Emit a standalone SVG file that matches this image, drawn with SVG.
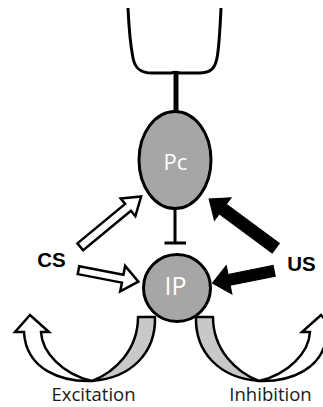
<svg xmlns="http://www.w3.org/2000/svg" width="323" height="407" viewBox="0 0 323 407">
<style>
.ln{fill:none;stroke:#000;stroke-width:3;stroke-linecap:butt}
.node{fill:#a6a6a6;stroke:#000;stroke-width:3}
.ntxt{font-family:"Open Sans",sans-serif;fill:#fff;text-anchor:middle}
.lbl{font-family:"Liberation Sans",Arial,sans-serif;font-weight:bold;font-size:20.5px;fill:#000;text-anchor:middle}
.cap{font-family:"Open Sans",sans-serif;font-size:18.5px;fill:#1a1a1a;text-anchor:middle}
.hollow{fill:#fff;stroke:#000;stroke-width:2.5;stroke-linejoin:miter}
.solid{fill:#000;stroke:#000;stroke-width:1;stroke-linejoin:miter}
.shade{fill:#c8c8c8;stroke:#000;stroke-width:2.5;stroke-linejoin:round}
.loopw{fill:#fff;stroke:#000;stroke-width:2.5;stroke-linejoin:miter}
</style>
<defs>
<g id="loop">
<path class="shade" d="M138,317 L155,317 C156,352 132,378 92,381 C115,372 138,350 138,317 Z"/>
<path class="loopw" d="M92,381 C62,382 26,370 24,332 L15,332 L30,315 L49,332 L41,332 C42,352 62,374 92,381 Z"/>
</g>
</defs>
<g id="dendrite">
<path class="ln" d="M128,8 C129,30 131,48 133,58 C135,69 141,73 152,73 L171,73 Q175.5,71.5 180,73 L199,73 C210,73 215,69 217,58 C219,48 220,30 221,8"/>
<line class="ln" x1="176" y1="73" x2="176" y2="112" style="stroke-width:5"/>
</g>
<g id="Pc">
<ellipse class="node" cx="175" cy="160" rx="36" ry="48.5"/>
<text class="ntxt" x="175.5" y="169.5" font-size="22">Pc</text>
</g>
<g id="IP">
<circle class="node" cx="177" cy="288" r="33.5"/>
<text class="ntxt" x="175.5" y="295" font-size="25">IP</text>
</g>
<g id="CS">
<text class="lbl" x="51.5" y="267">CS</text>
</g>
<g id="US">
<text class="lbl" x="301.5" y="271">US</text>
</g>
<g id="excitation">
<use href="#loop"/>
<text class="cap" x="93.5" y="401">Excitation</text>
</g>
<g id="inhibition">
<use href="#loop" transform="translate(351,0) scale(-1,1)"/>
<text class="cap" x="270.5" y="401">Inhibition</text>
</g>
<g id="connectors">
<path class="ln" d="M175,208.5 V243 M164.5,243 H186"/>
<path class="hollow" transform="translate(79.5,247.5) rotate(-39.6)" d="M1,-4.5 L63,-4.5 L63,-11.5 L80,0 L63,11.5 L63,4.5 L1,4.5 Z"/>
<path class="hollow" transform="translate(77.5,270) rotate(10.9)" d="M1,-4 L46,-4 L46,-13 L62,0 L46,13 L46,4 L1,4 Z"/>
<path class="solid" transform="translate(275.8,248.3) rotate(-143.5)" d="M0,-6 L66,-6 L66,-14 L83,0 L66,14 L66,6 L0,6 Z"/>
<path class="solid" transform="translate(274.2,270.8) rotate(168.7)" d="M0,-5.5 L46,-5.5 L46,-14.5 L63,0 L46,14.5 L46,5.5 L0,5.5 Z"/>
</g>
</svg>
